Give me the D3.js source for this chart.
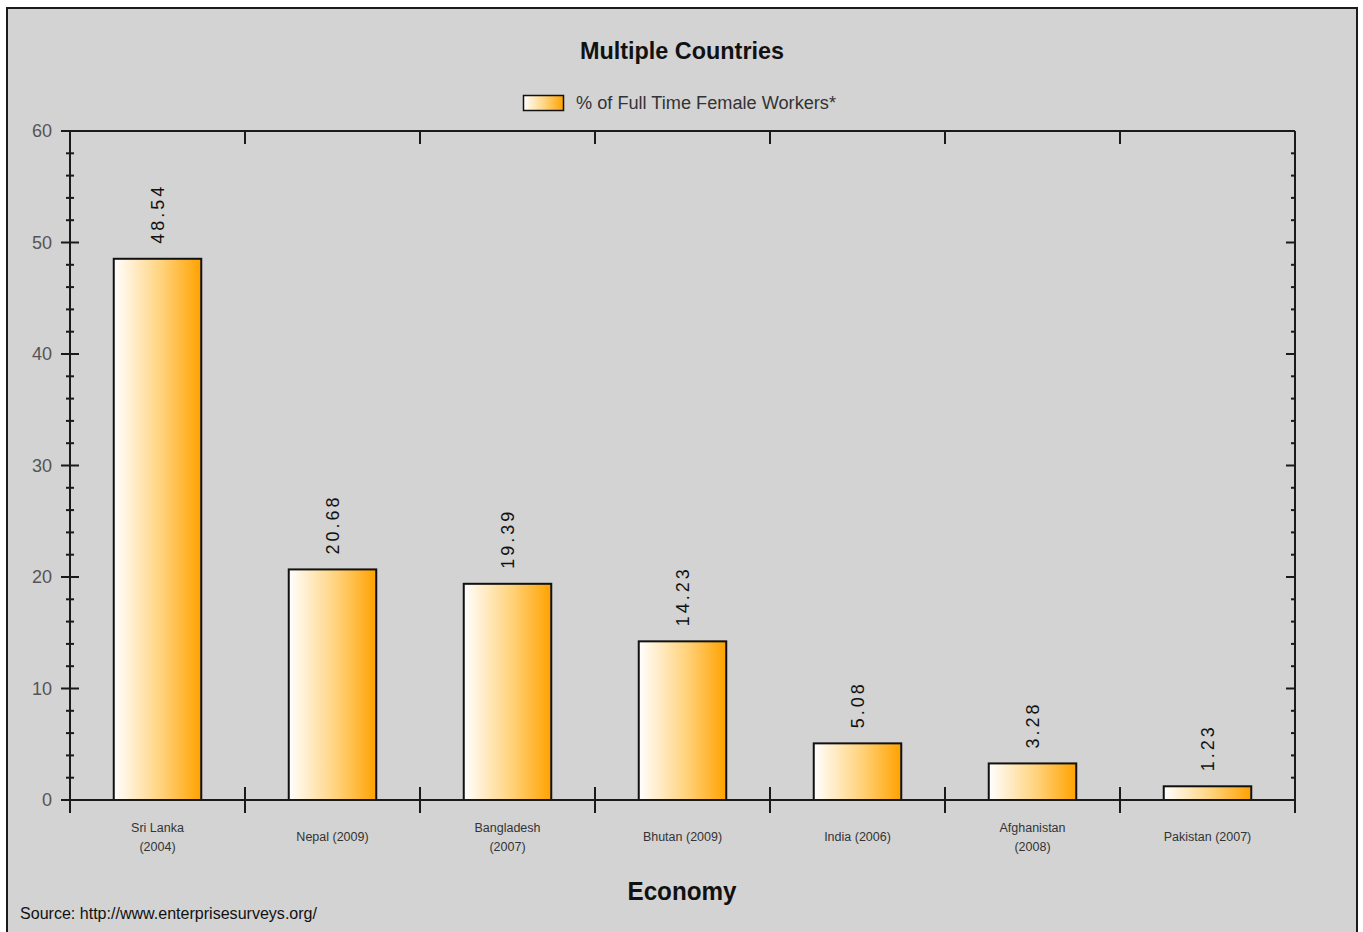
<!DOCTYPE html>
<html>
<head>
<meta charset="utf-8">
<script src="https://cdn.jsdelivr.net/npm/d3@7"></script>
<style>
  html, body { margin: 0; padding: 0; background: #ffffff; }
  svg { display: block; }
  text { font-family: "Liberation Sans", Arial, sans-serif; }
</style>
</head>
<body>
<svg id="chart" width="1363" height="932"></svg>
<script>
// Economies surveyed and share of full-time female workers (%)
const categories = [
  "Sri Lanka (2004)",
  "Nepal (2009)",
  "Bangladesh (2007)",
  "Bhutan (2009)",
  "India (2006)",
  "Afghanistan (2008)",
  "Pakistan (2007)"
];
const values = [48.54, 20.68, 19.39, 14.23, 5.08, 3.28, 1.23];
const yTicks = [0, 10, 20, 30, 40, 50, 60];
const seriesName = "% of Full Time Female Workers*";
const titleText = "Multiple Countries";
const xTitle = "Economy";
const sourceText = "Source: http://www.enterprisesurveys.org/";

const svg = d3.select("#chart");
const plot = { left: 70, right: 1295, top: 131, bottom: 800 };

// panel background and frame
svg.append("rect")
  .attr("x", 7).attr("y", 8).attr("width", 1350).attr("height", 940)
  .attr("fill", "#d3d3d3").attr("stroke", "#1a1a1a").attr("stroke-width", 2);

// gradient used by bars and legend swatch
const defs = svg.append("defs");
const grad = defs.append("linearGradient").attr("id", "barGrad")
  .attr("x1", "0%").attr("x2", "100%").attr("y1", "0%").attr("y2", "0%");
grad.append("stop").attr("offset", "0%").attr("stop-color", "#ffffff");
grad.append("stop").attr("offset", "55%").attr("stop-color", "#ffd27a");
grad.append("stop").attr("offset", "100%").attr("stop-color", "#ffa200");

const x = d3.scaleBand().domain(categories).range([plot.left, plot.right]).paddingInner(0).paddingOuter(0);
const y = d3.scaleLinear().domain([0, 60]).range([plot.bottom, plot.top]);

// title
svg.append("text")
  .attr("x", 682).attr("y", 59)
  .attr("text-anchor", "middle")
  .attr("font-size", 24).attr("font-weight", "bold")
  .attr("fill", "#111")
  .attr("textLength", 204).attr("lengthAdjust", "spacingAndGlyphs")
  .text(titleText);

// legend
svg.append("rect")
  .attr("x", 523.5).attr("y", 95.5).attr("width", 40).attr("height", 15)
  .attr("fill", "url(#barGrad)").attr("stroke", "#111").attr("stroke-width", 1.5);
svg.append("text")
  .attr("x", 576).attr("y", 109)
  .attr("font-size", 18).attr("fill", "#333")
  .attr("textLength", 260).attr("lengthAdjust", "spacingAndGlyphs")
  .text(seriesName);

// minor tick values every 2 units
const minor = d3.range(0, 61, 2).filter(v => v % 10 !== 0);

// left axis: ticks cross the axis line
const left = svg.append("g");
left.append("line")
  .attr("x1", plot.left).attr("x2", plot.left)
  .attr("y1", plot.top).attr("y2", plot.bottom + 13)
  .attr("stroke", "#1a1a1a").attr("stroke-width", 2);
left.selectAll(".maj").data(yTicks).join("line")
  .attr("x1", plot.left - 9).attr("x2", plot.left + 9)
  .attr("y1", d => y(d)).attr("y2", d => y(d))
  .attr("stroke", "#1a1a1a").attr("stroke-width", 2);
left.selectAll(".min").data(minor).join("line")
  .attr("x1", plot.left - 4).attr("x2", plot.left + 4)
  .attr("y1", d => y(d)).attr("y2", d => y(d))
  .attr("stroke", "#1a1a1a").attr("stroke-width", 2);
left.selectAll("text").data(yTicks).join("text")
  .attr("x", 52).attr("y", d => y(d) + 6)
  .attr("text-anchor", "end")
  .attr("font-size", 18).attr("fill", "#555")
  .text(d => d);

// right axis: ticks point inward
const right = svg.append("g");
right.append("line")
  .attr("x1", plot.right).attr("x2", plot.right)
  .attr("y1", plot.top).attr("y2", plot.bottom + 13)
  .attr("stroke", "#1a1a1a").attr("stroke-width", 2);
right.selectAll(".maj").data(yTicks).join("line")
  .attr("x1", plot.right - 9).attr("x2", plot.right)
  .attr("y1", d => y(d)).attr("y2", d => y(d))
  .attr("stroke", "#1a1a1a").attr("stroke-width", 2);
right.selectAll(".min").data(minor).join("line")
  .attr("x1", plot.right - 4).attr("x2", plot.right)
  .attr("y1", d => y(d)).attr("y2", d => y(d))
  .attr("stroke", "#1a1a1a").attr("stroke-width", 2);

// category boundaries
const bounds = categories.map(c => x(c)).concat([plot.right]);

// top axis
svg.append("line")
  .attr("x1", plot.left - 9).attr("x2", plot.right)
  .attr("y1", plot.top).attr("y2", plot.top)
  .attr("stroke", "#1a1a1a").attr("stroke-width", 2);
svg.selectAll(".topTick").data(bounds.slice(1, -1)).join("line")
  .attr("x1", d => d).attr("x2", d => d)
  .attr("y1", plot.top).attr("y2", plot.top + 13)
  .attr("stroke", "#1a1a1a").attr("stroke-width", 2);

// bars
svg.selectAll(".bar").data(values).join("rect")
  .attr("x", (d, i) => x(categories[i]) + x.bandwidth() * 0.25)
  .attr("width", x.bandwidth() * 0.5)
  .attr("y", d => y(d))
  .attr("height", d => y(0) - y(d))
  .attr("fill", "url(#barGrad)")
  .attr("stroke", "#111").attr("stroke-width", 2);

// bottom axis with crossing ticks at category boundaries
svg.append("line")
  .attr("x1", plot.left - 9).attr("x2", plot.right)
  .attr("y1", plot.bottom).attr("y2", plot.bottom)
  .attr("stroke", "#1a1a1a").attr("stroke-width", 2);
svg.selectAll(".botTick").data(bounds.slice(1)).join("line")
  .attr("x1", d => d).attr("x2", d => d)
  .attr("y1", plot.bottom - 13).attr("y2", plot.bottom + 13)
  .attr("stroke", "#1a1a1a").attr("stroke-width", 2);

// value labels, rotated
svg.selectAll(".val").data(values).join("text")
  .attr("transform", (d, i) => {
    const cx = x(categories[i]) + x.bandwidth() / 2;
    return `translate(${cx + 6.5},${y(d) - 15}) rotate(-90)`;
  })
  .attr("font-family", "'DejaVu Sans', sans-serif")
  .attr("font-size", 18)
  .attr("letter-spacing", 3)
  .attr("fill", "#111")
  .text(d => d.toFixed(2));

// category labels, long names wrap before the year
categories.forEach(c => {
  const cx = x(c) + x.bandwidth() / 2;
  const idx = c.lastIndexOf(" (");
  const lines = c.length > 15 ? [c.slice(0, idx), c.slice(idx + 1)] : [c];
  const y0 = lines.length === 2 ? 832 : 841;
  const t = svg.append("text")
    .attr("text-anchor", "middle")
    .attr("font-size", 12.5).attr("fill", "#333");
  lines.forEach((ln, k) => {
    t.append("tspan").attr("x", cx).attr("y", y0 + k * 19).text(ln);
  });
});

// axis title
svg.append("text")
  .attr("x", 682).attr("y", 900)
  .attr("text-anchor", "middle")
  .attr("font-size", 26).attr("font-weight", "bold")
  .attr("fill", "#111")
  .attr("textLength", 109).attr("lengthAdjust", "spacingAndGlyphs")
  .text(xTitle);

// source note
svg.append("text")
  .attr("x", 20).attr("y", 919)
  .attr("font-size", 16).attr("fill", "#111")
  .attr("textLength", 297).attr("lengthAdjust", "spacingAndGlyphs")
  .text(sourceText);
</script>
</body>
</html>
